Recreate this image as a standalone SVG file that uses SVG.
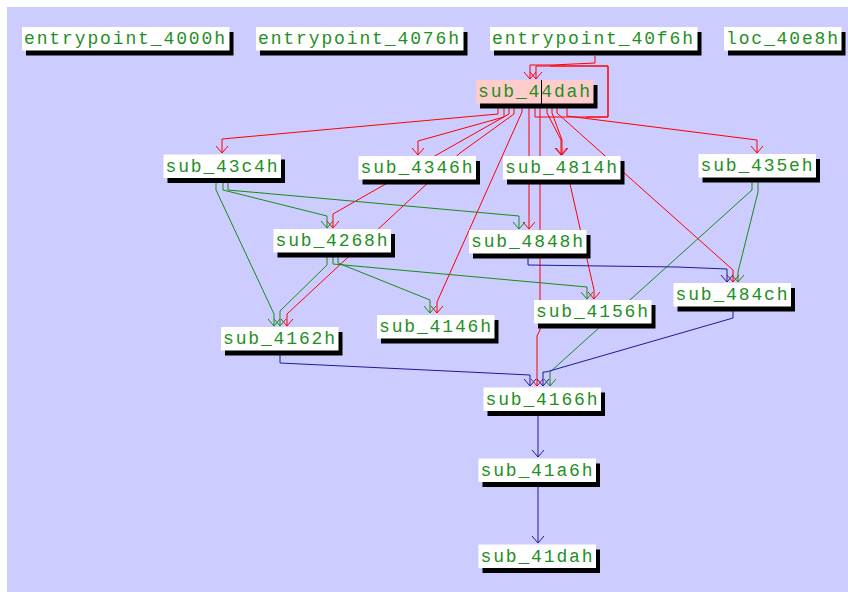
<svg xmlns="http://www.w3.org/2000/svg" width="848" height="592" viewBox="0 0 848 592">
<style>
.sh{fill:#000}
.bx{fill:#fff}
.pk{fill:#ffcccc}
text{font-family:"Liberation Mono","DejaVu Sans Mono",monospace;font-size:18px;fill:#1f8f1f;lengthAdjust:spacing}
.e{fill:none;stroke-width:1}
.r{stroke:#ff0000;marker-end:url(#ar)}
.g{stroke:#1a8a1a;marker-end:url(#ag)}
.b{stroke:#1a1a9a;marker-end:url(#ab)}
</style>
<defs>
<marker id="ar" viewBox="-8 -8 16 16" markerWidth="16" markerHeight="16" refX="0" refY="0" orient="auto" markerUnits="userSpaceOnUse"><path d="M-7,-6 L0,0 L-7,6" fill="none" stroke="#ff0000" stroke-width="1"/></marker>
<marker id="ag" viewBox="-8 -8 16 16" markerWidth="16" markerHeight="16" refX="0" refY="0" orient="auto" markerUnits="userSpaceOnUse"><path d="M-7,-6 L0,0 L-7,6" fill="none" stroke="#1a8a1a" stroke-width="1"/></marker>
<marker id="ab" viewBox="-8 -8 16 16" markerWidth="16" markerHeight="16" refX="0" refY="0" orient="auto" markerUnits="userSpaceOnUse"><path d="M-7,-6 L0,0 L-7,6" fill="none" stroke="#1a1a9a" stroke-width="1"/></marker>
</defs>
<rect x="0" y="0" width="848" height="592" fill="#ffffff"/>
<rect x="7" y="7" width="841" height="585" fill="#ccccff"/>

<g id="edges">
<path class="e r" d="M595,56 V63 L552,65 H530 V79"/>
<path class="e r" d="M535,108 V117 H608 V66 H536 V79"/>
<path class="e" stroke="#ff0000" stroke-width="3" d="M586,117 H608 V66 H550"/>
<path class="e r" d="M498,108 V114 L222,139 V153"/>
<path class="e r" d="M504,108 V117 L418,141 V155"/>
<path class="e r" d="M509,108 V114 L440,153 L333,214 V228"/>
<path class="e r" d="M514,108 V114 L460,153 L287,314 V326"/>
<path class="e r" d="M522,108 V112 L437,302 V313"/>
<path class="e r" d="M529,108 V229"/>
<path class="e r" d="M540,108 V330 L537,336 V386"/>
<path class="e r" d="M547,108 V113 L561,140 V155"/>
<path class="e r" d="M552,108 V113 L562,140 V155"/>
<path class="e r" d="M557,108 V113 L733,270 V282"/>
<path class="e r" d="M567,108 V116 L757,140 V153"/>
<path class="e r" d="M570,184 L594,290 V299"/>
<path class="e g" d="M216,182 V190 L274,314 V326"/>
<path class="e g" d="M223,182 V190 L327,216 V228"/>
<path class="e g" d="M228,182 V190 L519,216 V229"/>
<path class="e g" d="M327,257 V265 L280,311 V326"/>
<path class="e g" d="M338,257 V263 L430,300 V313"/>
<path class="e g" d="M333,257 V264 L587,287 V299"/>
<path class="e g" d="M752,182 V190 L550,372 V386"/>
<path class="e g" d="M758,182 V192 L738,272 V282"/>
<path class="e b" d="M528,258 V265 L677,267 L727,269 V282"/>
<path class="e b" d="M733,311 V318 L546,372 H543 V386"/>
<path class="e b" d="M280,355 V363 L530,375 V386"/>
<path class="e b" d="M538,416 V457"/>
<path class="e b" d="M538,487 V543"/>
</g>

<g id="entrypoint_4000h"><rect class="sh" x="26" y="32" width="207.5" height="23.5"/><rect class="bx" x="22" y="27" width="207.5" height="23.5"/><text x="24" y="44" textLength="201">entrypoint_4000h</text></g>
<g id="entrypoint_4076h"><rect class="sh" x="260" y="32" width="207.5" height="23.5"/><rect class="bx" x="256" y="27" width="207.5" height="23.5"/><text x="258" y="44" textLength="201">entrypoint_4076h</text></g>
<g id="entrypoint_40f6h"><rect class="sh" x="494" y="32" width="207.5" height="23.5"/><rect class="bx" x="490" y="27" width="207.5" height="23.5"/><text x="492" y="44" textLength="201">entrypoint_40f6h</text></g>
<g id="loc_40e8h"><rect class="sh" x="728" y="32" width="117.5" height="23.5"/><rect class="bx" x="724" y="27" width="117.5" height="23.5"/><text x="726" y="44" textLength="112">loc_40e8h</text></g>
<g id="sub_44dah"><rect class="sh" x="480" y="85" width="117.5" height="23.5"/><rect class="pk" x="476" y="80" width="117.5" height="23.5"/><text x="478" y="97" textLength="112">sub_44dah</text><line x1="541.5" y1="80" x2="541.5" y2="104" stroke="#000" stroke-width="1"/></g>
<g id="sub_43c4h"><rect class="sh" x="167.5" y="159.5" width="117.5" height="23.5"/><rect class="bx" x="163.5" y="154.5" width="117.5" height="23.5"/><text x="165.5" y="171.5" textLength="112">sub_43c4h</text></g>
<g id="sub_4346h"><rect class="sh" x="362.5" y="161" width="117.5" height="23.5"/><rect class="bx" x="358.5" y="156" width="117.5" height="23.5"/><text x="360.5" y="173" textLength="112">sub_4346h</text></g>
<g id="sub_4814h"><rect class="sh" x="507" y="161" width="117.5" height="23.5"/><rect class="bx" x="503" y="156" width="117.5" height="23.5"/><text x="505" y="173" textLength="112">sub_4814h</text></g>
<g id="sub_435eh"><rect class="sh" x="702.5" y="159" width="117.5" height="23.5"/><rect class="bx" x="698.5" y="154" width="117.5" height="23.5"/><text x="700.5" y="171" textLength="112">sub_435eh</text></g>
<g id="sub_4268h"><rect class="sh" x="277.5" y="234" width="117.5" height="23.5"/><rect class="bx" x="273.5" y="229" width="117.5" height="23.5"/><text x="275.5" y="246" textLength="112">sub_4268h</text></g>
<g id="sub_4848h"><rect class="sh" x="473" y="235" width="117.5" height="23.5"/><rect class="bx" x="469" y="230" width="117.5" height="23.5"/><text x="471" y="247" textLength="112">sub_4848h</text></g>
<g id="sub_484ch"><rect class="sh" x="677.5" y="288" width="117.5" height="23.5"/><rect class="bx" x="673.5" y="283" width="117.5" height="23.5"/><text x="675.5" y="300" textLength="112">sub_484ch</text></g>
<g id="sub_4162h"><rect class="sh" x="225" y="332" width="117.5" height="23.5"/><rect class="bx" x="221" y="327" width="117.5" height="23.5"/><text x="223" y="344" textLength="112">sub_4162h</text></g>
<g id="sub_4146h"><rect class="sh" x="381" y="320" width="117.5" height="23.5"/><rect class="bx" x="377" y="315" width="117.5" height="23.5"/><text x="379" y="332" textLength="112">sub_4146h</text></g>
<g id="sub_4156h"><rect class="sh" x="538" y="305" width="117.5" height="23.5"/><rect class="bx" x="534" y="300" width="117.5" height="23.5"/><text x="536" y="317" textLength="112">sub_4156h</text></g>
<g id="sub_4166h"><rect class="sh" x="487.5" y="392.5" width="117.5" height="23.5"/><rect class="bx" x="483.5" y="387.5" width="117.5" height="23.5"/><text x="485.5" y="404.5" textLength="112">sub_4166h</text></g>
<g id="sub_41a6h"><rect class="sh" x="482.5" y="463.5" width="117.5" height="23.5"/><rect class="bx" x="478.5" y="458.5" width="117.5" height="23.5"/><text x="480.5" y="475.5" textLength="112">sub_41a6h</text></g>
<g id="sub_41dah"><rect class="sh" x="482.5" y="549.5" width="117.5" height="23.5"/><rect class="bx" x="478.5" y="544.5" width="117.5" height="23.5"/><text x="480.5" y="561.5" textLength="112">sub_41dah</text></g>
</svg>
